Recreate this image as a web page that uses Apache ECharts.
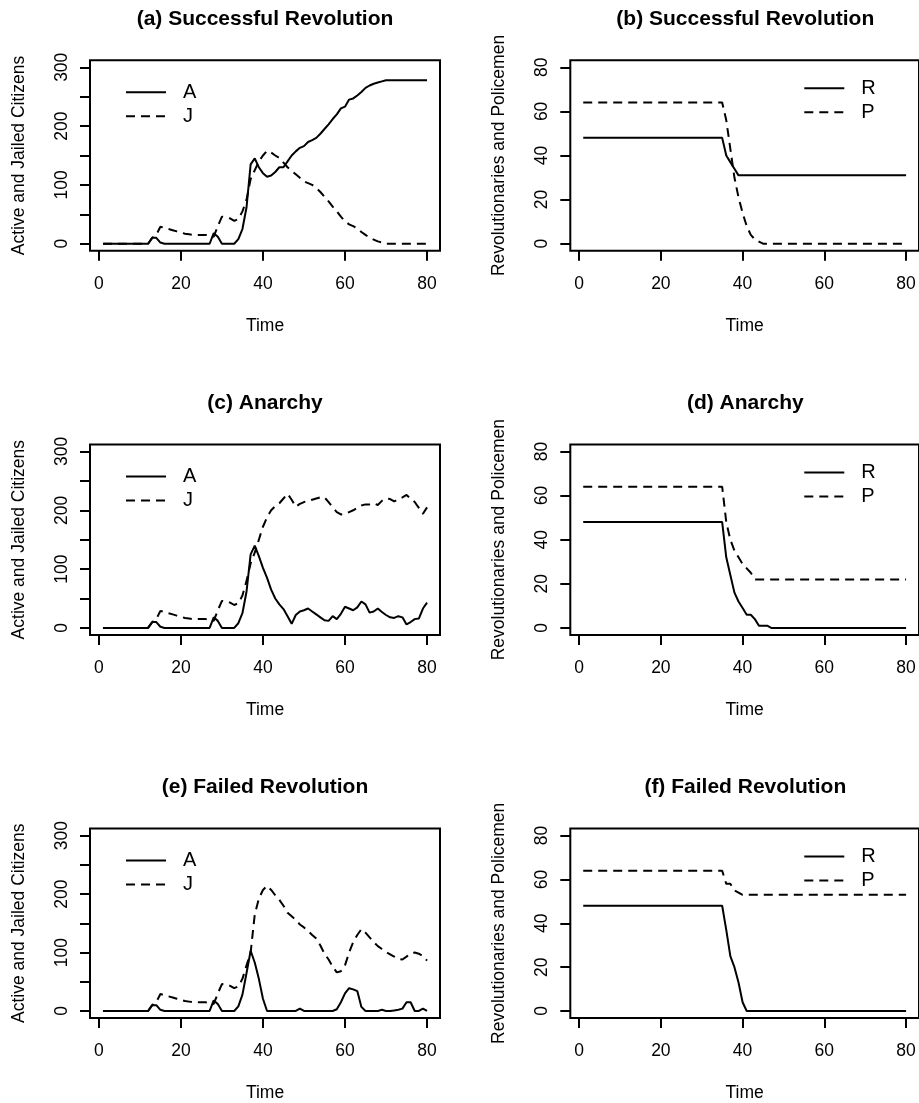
<!DOCTYPE html>
<html>
<head>
<meta charset="utf-8">
<script src="https://cdn.jsdelivr.net/npm/echarts@6/dist/echarts.min.js"></script>
<style>
  html, body { margin: 0; padding: 0; background: #ffffff; }
  #chart { width: 919px; height: 1103px; }
</style>
</head>
<body>
<div id="chart"></div>
<script>
// Time steps of the simulation
const time = [1,2,3,4,5,6,7,8,9,10,11,12,13,14,15,16,17,18,19,20,
  21,22,23,24,25,26,27,28,29,30,31,32,33,34,35,36,37,38,39,40,
  41,42,43,44,45,46,47,48,49,50,51,52,53,54,55,56,57,58,59,60,
  61,62,63,64,65,66,67,68,69,70,71,72,73,74,75,76,77,78,79,80];

// (a) Successful revolution: active (A) and jailed (J) citizens
const activeSuccess = [0,0,0,0,0,0,0,0,0,0,0,0,10,10,2,0,0,0,0,0,
  0,0,0,0,0,0,0,18,12,0,0,0,0,8,25,62,135,145,130,120,
  114,116,122,130,130,140,150,157,163,166,173,176,180,187,195,203,212,220,230,233,
  245,247,252,258,265,269,272,274,276,278,278,278,278,278,278,278,278,278,278,278];
const jailedSuccess = [0,0,0,0,0,0,0,0,0,0,0,0,10,15,29,27,25,23,21,19,
  17,16,15,15,15,15,14,12,30,46,45,43,39,42,55,75,110,125,140,150,
  158,155,150,146,138,130,124,118,112,106,103,100,95,88,80,72,63,55,46,38,
  33,30,26,20,15,10,7,4,2,0,0,0,0,0,0,0,0,0,0,0];

// (b) Successful revolution: revolutionaries (R) and policemen (P)
const revolSuccess = [48,48,48,48,48,48,48,48,48,48,48,48,48,48,48,48,48,48,48,48,
  48,48,48,48,48,48,48,48,48,48,48,48,48,48,48,40,37,34,31,31,
  31,31,31,31,31,31,31,31,31,31,31,31,31,31,31,31,31,31,31,31,
  31,31,31,31,31,31,31,31,31,31,31,31,31,31,31,31,31,31,31,31];
const policeSuccess = [64,64,64,64,64,64,64,64,64,64,64,64,64,64,64,64,64,64,64,64,
  64,64,64,64,64,64,64,64,64,64,64,64,64,64,64,56,43,30,21,14,
  8,4,2,1,0,0,0,0,0,0,0,0,0,0,0,0,0,0,0,0,
  0,0,0,0,0,0,0,0,0,0,0,0,0,0,0,0,0,0,0,0];

// (c) Anarchy: active (A) and jailed (J) citizens
const activeAnarchy = [0,0,0,0,0,0,0,0,0,0,0,0,10,10,2,0,0,0,0,0,
  0,0,0,0,0,0,0,18,12,0,0,0,0,8,25,62,125,140,122,102,
  85,65,50,40,32,20,7,22,28,30,33,28,23,18,13,12,20,15,24,36,
  33,30,35,45,40,26,28,33,27,22,18,17,20,18,6,10,15,16,33,43];
const jailedAnarchy = [0,0,0,0,0,0,0,0,0,0,0,0,10,15,29,27,25,23,21,19,
  17,16,15,15,15,15,14,12,30,46,45,43,39,42,55,80,110,128,150,172,
  188,200,207,212,220,228,218,206,211,214,216,218,220,222,222,214,205,197,193,194,
  197,200,204,208,210,210,212,209,216,220,219,215,219,222,226,220,214,204,194,205];

// (d) Anarchy: revolutionaries (R) and policemen (P)
const revolAnarchy = [48,48,48,48,48,48,48,48,48,48,48,48,48,48,48,48,48,48,48,48,
  48,48,48,48,48,48,48,48,48,48,48,48,48,48,48,32,24,16,12,9,
  6,6,4,1,1,1,0,0,0,0,0,0,0,0,0,0,0,0,0,0,
  0,0,0,0,0,0,0,0,0,0,0,0,0,0,0,0,0,0,0,0];
const policeAnarchy = [64,64,64,64,64,64,64,64,64,64,64,64,64,64,64,64,64,64,64,64,
  64,64,64,64,64,64,64,64,64,64,64,64,64,64,64,48,40,35,32,29,
  27,25,22,22,22,22,22,22,22,22,22,22,22,22,22,22,22,22,22,22,
  22,22,22,22,22,22,22,22,22,22,22,22,22,22,22,22,22,22,22,22];

// (e) Failed revolution: active (A) and jailed (J) citizens
const activeFailed = [0,0,0,0,0,0,0,0,0,0,0,0,10,10,2,0,0,0,0,0,
  0,0,0,0,0,0,0,18,12,0,0,0,0,8,28,65,103,83,55,21,
  0,0,0,0,0,0,0,0,4,0,0,0,0,0,0,0,0,3,15,30,
  39,37,34,7,0,0,0,0,2,0,0,1,2,4,15,15,0,0,4,0];
const jailedFailed = [0,0,0,0,0,0,0,0,0,0,0,0,10,15,29,27,25,23,21,19,
  17,16,15,15,15,15,14,12,30,46,45,43,39,42,55,78,100,165,192,207,
  214,207,198,190,180,168,162,156,148,143,137,130,124,112,98,88,76,66,68,78,
  100,118,130,140,134,126,118,111,106,101,97,93,89,88,93,98,100,98,94,86];

// (f) Failed revolution: revolutionaries (R) and policemen (P)
const revolFailed = [48,48,48,48,48,48,48,48,48,48,48,48,48,48,48,48,48,48,48,48,
  48,48,48,48,48,48,48,48,48,48,48,48,48,48,48,37,25,20,13,4,
  0,0,0,0,0,0,0,0,0,0,0,0,0,0,0,0,0,0,0,0,
  0,0,0,0,0,0,0,0,0,0,0,0,0,0,0,0,0,0,0,0];
const policeFailed = [64,64,64,64,64,64,64,64,64,64,64,64,64,64,64,64,64,64,64,64,
  64,64,64,64,64,64,64,64,64,64,64,64,64,64,64,58,58,55,54,53,
  53,53,53,53,53,53,53,53,53,53,53,53,53,53,53,53,53,53,53,53,
  53,53,53,53,53,53,53,53,53,53,53,53,53,53,53,53,53,53,53,53];

// Axis ticks and labels
const timeTicks = [0, 20, 40, 60, 80];
const citizenTicks = [0, 50, 100, 150, 200, 250, 300];
const citizenLabels = [0, 100, 200, 300];
const forceTicks = [0, 20, 40, 60, 80];

const FONT = '"Liberation Sans", Arial, Helvetica, sans-serif';
const LABEL_SIZE = 17.5;

const panels = [
  { title: '(a) Successful Revolution', row: 0, col: 0, kind: 'citizens', names: ['A', 'J'], values: [activeSuccess, jailedSuccess] },
  { title: '(b) Successful Revolution', row: 0, col: 1, kind: 'forces',   names: ['R', 'P'], values: [revolSuccess, policeSuccess] },
  { title: '(c) Anarchy',               row: 1, col: 0, kind: 'citizens', names: ['A', 'J'], values: [activeAnarchy, jailedAnarchy] },
  { title: '(d) Anarchy',               row: 1, col: 1, kind: 'forces',   names: ['R', 'P'], values: [revolAnarchy, policeAnarchy] },
  { title: '(e) Failed Revolution',     row: 2, col: 0, kind: 'citizens', names: ['A', 'J'], values: [activeFailed, jailedFailed] },
  { title: '(f) Failed Revolution',     row: 2, col: 1, kind: 'forces',   names: ['R', 'P'], values: [revolFailed, policeFailed] }
];

// Panel geometry (4% padding around the data range, like base R plots)
const colLeft = [90, 570.3];
const rowTop = [60.2, 444.4, 828.6];
const boxW = 350;
const boxH = 190.6;

const option = {
  animation: false,
  backgroundColor: '#ffffff',
  textStyle: { fontFamily: FONT, color: '#000' },
  title: [], grid: [], xAxis: [], yAxis: [], legend: [], series: []
};

panels.forEach((p, i) => {
  const left = colLeft[p.col];
  const top = rowTop[p.row];
  const isCit = p.kind === 'citizens';

  option.title.push({
    text: p.title,
    left: left + boxW / 2,
    top: top - 51.5,
    textAlign: 'center',
    padding: 0,
    textStyle: { fontFamily: FONT, fontSize: 21, fontWeight: 'bold', color: '#000' }
  });

  option.grid.push({
    left: left, top: top, width: boxW, height: boxH,
    show: true, borderColor: '#000', borderWidth: 2, backgroundColor: 'transparent'
  });

  option.xAxis.push({
    gridIndex: i, type: 'value', min: -2.16, max: 83.16, position: 'bottom',
    axisLine: { show: false, onZero: false },
    splitLine: { show: false },
    axisTick: { show: true, customValues: timeTicks, length: 10, inside: false,
      lineStyle: { color: '#000', width: 2 } },
    axisLabel: { customValues: timeTicks, margin: 24, fontSize: LABEL_SIZE, color: '#000', fontFamily: FONT },
    name: 'Time', nameLocation: 'middle', nameGap: 66,
    nameTextStyle: { fontSize: LABEL_SIZE, color: '#000', fontFamily: FONT }
  });

  option.yAxis.push({
    gridIndex: i, type: 'value', position: 'left',
    min: isCit ? -12 : -3.2, max: isCit ? 312 : 83.2,
    axisLine: { show: false, onZero: false },
    splitLine: { show: false },
    axisTick: { show: true, customValues: isCit ? citizenTicks : forceTicks, length: 10, inside: false,
      lineStyle: { color: '#000', width: 2 } },
    axisLabel: { customValues: isCit ? citizenLabels : forceTicks, rotate: 90, margin: 19,
      fontSize: LABEL_SIZE, color: '#000', fontFamily: FONT },
    name: isCit ? 'Active and Jailed Citizens' : 'Revolutionaries and Policemen',
    nameLocation: 'middle', nameGap: 62, nameRotate: 90,
    nameTextStyle: { fontSize: LABEL_SIZE, color: '#000', fontFamily: FONT }
  });

  option.legend.push({
    data: p.names,
    orient: 'vertical',
    left: isCit ? left + 35 : left + 233,
    top: top + (isCit ? 22 : 18),
    padding: 0,
    itemWidth: 40, itemHeight: 14, itemGap: 4,
    selectedMode: false,
    itemStyle: { color: 'rgba(0,0,0,0)', borderWidth: 0, opacity: 0 },
    textStyle: { fontSize: 20, color: '#000', fontFamily: FONT, padding: [0, 0, 0, 12] }
  });

  p.names.forEach((name, k) => {
    option.series.push({
      name: name,
      type: 'line',
      xAxisIndex: i, yAxisIndex: i,
      symbol: 'none',
      silent: true,
      lineStyle: { color: '#000', width: 2, type: k === 0 ? 'solid' : [9, 6] },
      itemStyle: { color: '#000' },
      data: time.map((t, j) => [t, p.values[k][j]])
    });
  });
});

const chart = echarts.init(document.getElementById('chart'), null, { renderer: 'canvas' });
chart.setOption(option);
</script>
</body>
</html>
